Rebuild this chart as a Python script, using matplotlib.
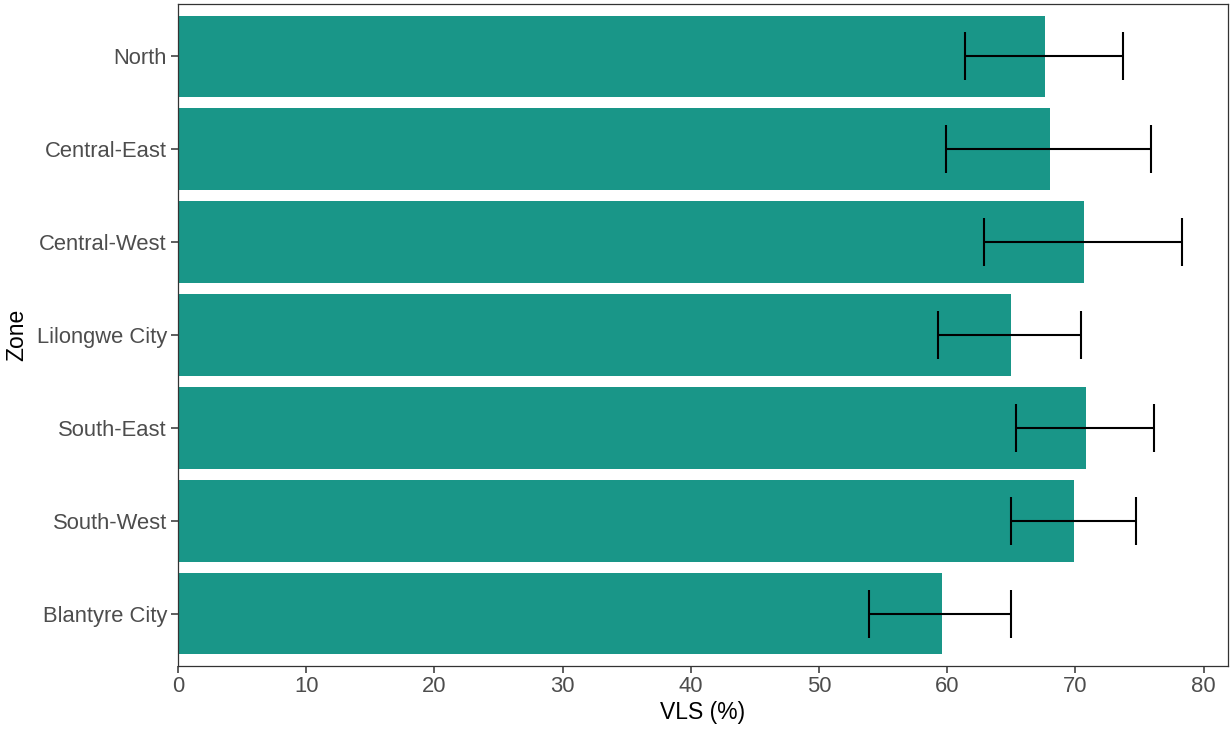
import numpy as np
import matplotlib
matplotlib.use("Agg")
import matplotlib.pyplot as plt

plt.rcParams['font.family'] = ['Liberation Sans', 'DejaVu Sans']

# viral load suppression by zone, top to bottom as plotted
zones = ["North", "Central-East", "Central-West", "Lilongwe City",
         "South-East", "South-West", "Blantyre City"]
vls = [67.6, 68.0, 70.7, 65.0, 70.8, 69.9, 59.6]
ci_low = [61.4, 59.9, 62.9, 59.3, 65.4, 65.0, 53.9]
ci_high = [73.7, 75.9, 78.3, 70.4, 76.1, 74.7, 65.0]

bar_color = "#199688"
tick_grey = "#4d4d4d"

fig = plt.figure(figsize=(12.31, 7.30), dpi=100)
ax = fig.add_axes([0.1446, 0.0877, 0.8530, 0.9068])

ypos = np.arange(len(zones))[::-1]
vls = np.array(vls)
lo = vls - np.array(ci_low)
hi = np.array(ci_high) - vls

ax.barh(ypos, vls, height=0.88, color=bar_color, zorder=2)
ax.errorbar(vls, ypos, xerr=[lo, hi], fmt="none", ecolor="black",
            elinewidth=1.5, capsize=17, capthick=1.5, zorder=3)

ax.set_xlim(0, 81.9)
ax.set_ylim(-0.565, len(zones) - 1 + 0.565)
ax.set_xticks(np.arange(0, 81, 10))
ax.set_yticks(ypos)
ax.set_yticklabels(zones)

ax.tick_params(axis="both", labelsize=15.8, labelcolor=tick_grey,
               color="#333333", length=5, width=1.1)
ax.tick_params(axis="x", pad=2)
ax.tick_params(axis="y", pad=3)
for s in ax.spines.values():
    s.set_color("#333333")
    s.set_linewidth(0.9)

ax.set_xlabel("VLS (%)", fontsize=16.5, labelpad=3)
ax.set_ylabel("Zone", fontsize=16.5, labelpad=6)

fig.savefig("out.png", dpi=100)
